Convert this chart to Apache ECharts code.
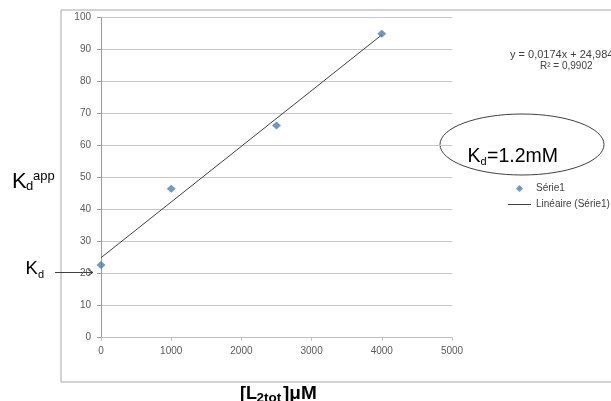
<!DOCTYPE html>
<html>
<head>
<meta charset="utf-8">
<script src="https://cdn.jsdelivr.net/npm/echarts@6/dist/echarts.min.js"></script>
<style>
html,body{margin:0;padding:0;background:#fff;}
#c{width:611px;height:401px;}
</style>
</head>
<body>
<div id="c"></div>
<script>
// Data
var xValues = [0, 1000, 2500, 4000];
var yValues = [22.7, 46.5, 66.3, 94.9];
var trendX = [0, 4000];
var trendY = [24.98, 94.58];
var seriesNames = ['Série1', 'Linéaire (Série1)'];
var equationLines = ['y = 0,0174x + 24,984', 'R² = 0,9902'];
var xTicks = {min: 0, max: 5000, interval: 1000};
var yTicks = {min: 0, max: 100, interval: 10};

var scatterData = xValues.map(function (x, i) { return [x, yValues[i]]; });
var trendData = trendX.map(function (x, i) { return [x, trendY[i]]; });

var FONT = '"Liberation Sans", Arial, sans-serif';
var chart = echarts.init(document.getElementById('c'), null, {renderer: 'canvas'});

chart.setOption({
  animation: false,
  backgroundColor: '#ffffff',
  grid: {left: 101, right: 159, top: 17.5, bottom: 63.3, containLabel: false},
  xAxis: {
    type: 'value', min: xTicks.min, max: xTicks.max, interval: xTicks.interval,
    axisLine: {show: true, lineStyle: {color: '#bfbfbf', width: 1}},
    axisTick: {show: true, length: 3, lineStyle: {color: '#bfbfbf'}},
    splitLine: {show: false},
    axisLabel: {color: '#595959', fontFamily: FONT, fontSize: 10, margin: 9,
      formatter: function (v) { return String(v); }}
  },
  yAxis: {
    type: 'value', min: yTicks.min, max: yTicks.max, interval: yTicks.interval,
    axisLine: {show: true, lineStyle: {color: '#9a9a9a', width: 1}},
    axisTick: {show: true, length: 4, lineStyle: {color: '#9a9a9a'}},
    splitLine: {show: true, lineStyle: {color: '#c8c8c8', width: 1}},
    axisLabel: {color: '#595959', fontFamily: FONT, fontSize: 10, margin: 10,
      formatter: function (v) { return String(v); }}
  },
  legend: {
    orient: 'vertical', left: 503, top: 178.5,
    itemWidth: 23, itemHeight: 7, itemGap: 6,
    symbolKeepAspect: true,
    textStyle: {color: '#404040', fontFamily: FONT, fontSize: 10},
    data: [
      {name: seriesNames[0], icon: 'path://M5,0 L10,5 L5,10 L0,5 Z', itemStyle: {color: '#4a7ebb'}},
      {name: seriesNames[1], icon: 'path://M0,0 L23,0 L23,1 L0,1 Z', itemStyle: {color: '#404040'}}
    ]
  },
  series: [
    {
      name: seriesNames[0], type: 'scatter', data: scatterData,
      symbol: 'diamond', symbolSize: [9, 8],
      itemStyle: {color: '#4a7ebb'}, z: 5
    },
    {
      name: seriesNames[1], type: 'line', data: trendData,
      symbol: 'none', showSymbol: false,
      lineStyle: {color: '#404040', width: 1},
      itemStyle: {color: '#404040'}, z: 4
    }
  ],
  graphic: [
    {type: 'rect', shape: {x: 61, y: 10, width: 620, height: 372}, style: {fill: 'none', stroke: '#a6a6a6', lineWidth: 1}, z: -1, silent: true},
    // equation
    {type: 'text', x: 510, y: 55, style: {text: equationLines[0], font: '11px ' + FONT, fill: '#404040', textVerticalAlign: 'middle'}},
    {type: 'text', x: 540, y: 66, style: {text: equationLines[1], font: '10px ' + FONT, fill: '#404040', textVerticalAlign: 'middle'}},
    // ellipse annotation
    {type: 'ellipse', shape: {cx: 522, cy: 144.5, rx: 82, ry: 30.5}, style: {fill: 'none', stroke: '#404040', lineWidth: 1}},
    {type: 'text', x: 467.5, y: 157, style: {text: 'K', font: '19.5px ' + FONT, fill: '#000', textVerticalAlign: 'middle'}},
    {type: 'text', x: 480.5, y: 161.5, style: {text: 'd', font: '11px ' + FONT, fill: '#000', textVerticalAlign: 'middle'}},
    {type: 'text', x: 487, y: 157, style: {text: '=1.2mM', font: '19.5px ' + FONT, fill: '#000', textVerticalAlign: 'middle'}},
    // Kd app label
    {type: 'text', x: 12, y: 182, style: {text: 'K', font: '22px ' + FONT, fill: '#000', textVerticalAlign: 'middle'}},
    {type: 'text', x: 26, y: 186, style: {text: 'd', font: '13px ' + FONT, fill: '#000', textVerticalAlign: 'middle'}},
    {type: 'text', x: 33, y: 176, style: {text: 'app', font: '13px ' + FONT, fill: '#000', textVerticalAlign: 'middle'}},
    // Kd with arrow
    {type: 'text', x: 25.5, y: 268.5, style: {text: 'K', font: '18.5px ' + FONT, fill: '#000', textVerticalAlign: 'middle'}},
    {type: 'text', x: 38, y: 274.5, style: {text: 'd', font: '11px ' + FONT, fill: '#000', textVerticalAlign: 'middle'}},
    {type: 'line', shape: {x1: 55, y1: 272.5, x2: 93, y2: 272.5}, style: {stroke: '#404040', lineWidth: 1}},
    {type: 'polyline', shape: {points: [[88, 269.5], [93, 272.5], [88, 275.5]]}, style: {stroke: '#404040', lineWidth: 1, fill: 'none'}},
    // axis title
    {type: 'text', x: 240, y: 394, style: {text: '[L', font: 'bold 18px ' + FONT, fill: '#000', textVerticalAlign: 'middle'}},
    {type: 'text', x: 256.5, y: 398.5, style: {text: '2tot', font: 'bold 13.5px ' + FONT, fill: '#000', textVerticalAlign: 'middle'}},
    {type: 'text', x: 283, y: 394, style: {text: ']μM', font: 'bold 19px ' + FONT, fill: '#000', textVerticalAlign: 'middle'}}
  ]
});
</script>
</body>
</html>
